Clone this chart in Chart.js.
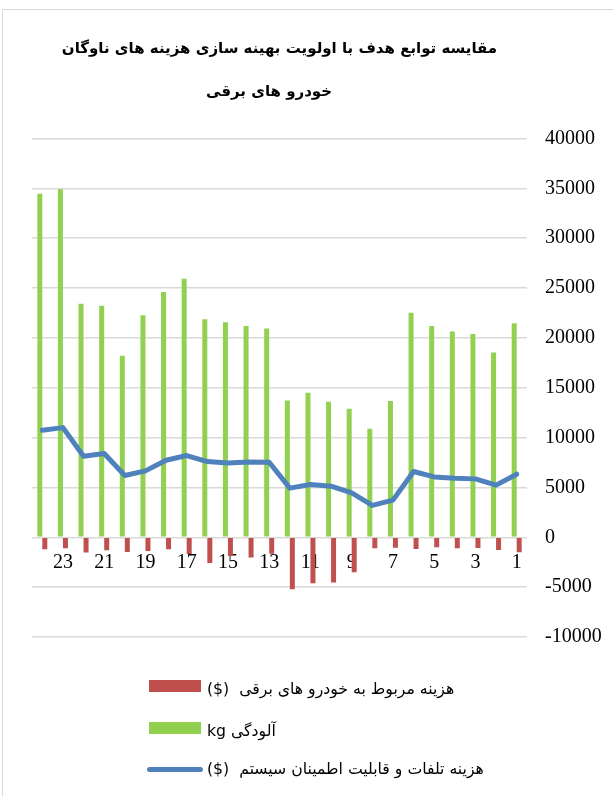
<!DOCTYPE html>
<html><head><meta charset="utf-8">
<script src="https://cdn.jsdelivr.net/npm/chart.js@4"></script>
<style>
html,body{margin:0;padding:0;background:#fff;overflow:hidden;width:613px;height:796px;}
#frame{position:absolute;left:2px;top:9px;width:700px;height:900px;border:1px solid #d9d9d9;box-sizing:border-box;}
#c{position:absolute;left:0;top:0;}
.sw{position:absolute;left:149px;width:52px;height:12px;}
.ln{position:absolute;left:147px;width:56px;height:5px;border-radius:3px;}
.lt{position:absolute;left:207px;white-space:nowrap;direction:rtl;font-family:"DejaVu Sans";font-size:15.7px;line-height:20px;color:#000;}
</style></head>
<body>
<div id="frame"></div>
<canvas id="c" width="613" height="796"></canvas>
<div class="sw" style="top:680px;background:#c0504d"></div>
<div class="lt" style="top:679px">هزینه مربوط به خودرو های برقی &nbsp;($)</div>
<div class="sw" style="top:722px;background:#92d050"></div>
<div class="lt" style="top:721px">آلودگی kg</div>
<div class="ln" style="top:767px;background:#4f81bd"></div>
<div class="lt" style="top:759px">هزینه تلفات و قابلیت اطمینان سیستم &nbsp;($)</div>
<script>
const titleLines = ['مقایسه توابع هدف با اولویت بهینه سازی هزینه های ناوگان', 'خودرو های برقی    '];
const categories = ['1','2','3','4','5','6','7','8','9','10','11','12','13','14','15','16','17','18','19','20','21','22','23','24'];
const tickLabels = ['1','','3','','5','','7','','9','','11','','13','','15','','17','','19','','21','','23',''];
const evCost = [-1500,-1270,-1070,-1100,-1000,-1170,-1040,-1100,-3500,-4540,-4600,-5200,-1650,-2030,-1870,-2570,-1670,-1200,-1370,-1470,-1300,-1530,-1100,-1200];
const emission = [21460,18530,20400,20630,21200,22530,13660,10900,12900,13600,14500,13730,20950,21200,21560,21860,25930,24600,22260,18200,23230,23430,34900,34460];
const lossCost = [6330,5230,5860,5930,6060,6600,3730,3200,4460,5130,5300,4930,7530,7560,7460,7600,8200,7730,6660,6200,8400,8130,11000,10730];
const yTicks = {min:-10000, max:40000, step:5000};

new Chart(document.getElementById('c'), {
  data: {
    labels: categories,
    datasets: [
      {type:'line', label:'هزینه تلفات و قابلیت اطمینان سیستم ($)', data:lossCost, borderColor:'#4f81bd', backgroundColor:'#4f81bd', borderWidth:5, pointRadius:0, tension:0, borderCapStyle:'round', borderJoinStyle:'round', order:0},
      {type:'bar', label:'آلودگی kg', data:emission, backgroundColor:'#92d050', barPercentage:1, categoryPercentage:0.485, order:1},
      {type:'bar', label:'هزینه مربوط به خودرو های برقی ($)', data:evCost, backgroundColor:'#c0504d', barPercentage:1, categoryPercentage:0.485, order:2}
    ]
  },
  options: {
    responsive:false, animation:false,
    layout:{padding:{left:32, right:0, top:0, bottom:159}},
    plugins:{
      legend:{display:false}, tooltip:{enabled:false},
      title:{display:true, text:titleLines, fullSize:false, color:'#000',
        font:{family:'DejaVu Sans', size:15, weight:'bold', lineHeight:'43px'},
        padding:{top:27.5, bottom:25}}
    },
    scales:{
      x:{type:'category', reverse:true, position:{y:0}, z:1,
        grid:{display:false}, border:{display:false},
        ticks:{autoSkip:false, maxRotation:0, minRotation:0, padding:5, color:'#000',
          font:{family:'Liberation Serif', size:20},
          callback:(v)=>tickLabels[v]}},
      y:{position:'right', min:yTicks.min, max:yTicks.max,
        grid:{color:'#d9d9d9', lineWidth:1.5, drawTicks:false}, border:{display:false},
        ticks:{stepSize:yTicks.step, padding:18, color:'#000', font:{family:'Liberation Serif', size:20},
          callback:(v)=>String(v)},
        afterFit:(s)=>{s.width=86;}}
    }
  }
});
</script>
</body></html>
